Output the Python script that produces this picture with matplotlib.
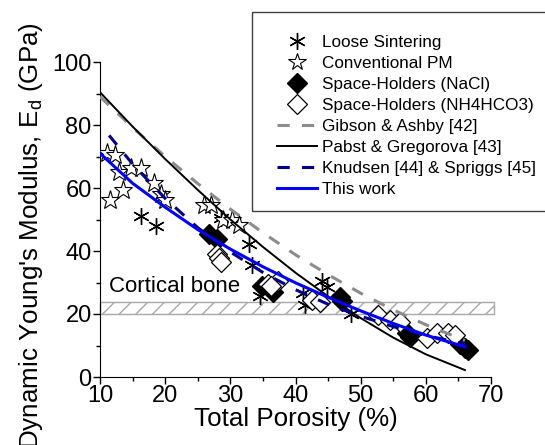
import matplotlib
matplotlib.use("Agg")
import matplotlib.pyplot as plt
from matplotlib.patches import Rectangle
from matplotlib.lines import Line2D

plt.rcParams['font.family'] = ['Liberation Sans', 'DejaVu Sans']
plt.rcParams['hatch.color'] = '#9a9a9a'
plt.rcParams['hatch.linewidth'] = 1.0

# ---------------- data ----------------
loose_p = [16.3, 18.6, 28.6, 32.9, 33.4, 34.5, 41.1, 41.5, 44.1, 44.9, 48.5]
loose_E = [51.1, 48.0, 50.5, 42.3, 35.7, 25.6, 26.6, 23.0, 30.6, 28.6, 20.0]

conv_p = [11.0, 12.3, 11.6, 12.9, 14.7, 16.3, 13.5, 18.3, 19.4, 19.9, 26.0, 27.1, 28.8, 30.2, 31.4]
conv_E = [71.2, 70.4, 56.1, 65.1, 66.5, 66.4, 59.4, 61.5, 58.0, 56.3, 54.6, 54.6, 49.9, 49.9, 48.2]

nacl_p = [26.8, 28.0, 34.8, 36.6, 46.8, 47.2, 57.1, 57.6, 65.2, 66.0, 66.5]
nacl_E = [45.5, 43.8, 28.9, 27.1, 25.3, 24.0, 13.9, 12.7, 10.4, 9.2, 8.5]

nh4_p = [28.0, 28.3, 28.6, 35.8, 37.3, 36.2, 42.6, 43.7, 52.6, 54.5, 56.0, 60.2, 61.7, 63.4, 64.5]
nh4_E = [39.2, 37.8, 36.5, 29.5, 30.6, 28.9, 24.5, 23.9, 19.7, 18.1, 17.5, 12.4, 13.9, 13.9, 13.3]

model_p = [10, 15, 20, 25, 30, 35, 40, 45, 50, 55, 60, 66]
gibson_E = [89.0, 79.2, 70.0, 61.4, 53.3, 45.8, 38.8, 32.5, 26.6, 21.3, 16.6, 11.6]
pabst_E = [90.4, 79.5, 69.2, 59.4, 50.0, 41.3, 33.1, 25.6, 18.7, 12.5, 7.2, 2.2]
knud_p = [11.4, 15, 20, 25, 30, 35, 40, 45, 50, 55, 60, 66]
knud_E = [76.7, 67.6, 56.7, 47.4, 39.7, 33.2, 27.7, 23.1, 19.3, 16.0, 13.2, 10.5]
this_E = [71.0, 61.5, 53.9, 46.8, 40.6, 35.0, 29.9, 25.3, 21.0, 17.0, 13.3, 9.6]

bone_low, bone_high = 20.0, 23.7
bone_p = [10, 70.5]

xticks = [10, 20, 30, 40, 50, 60, 70]
yticks = [0, 20, 40, 60, 80, 100]

# ---------------- figure ----------------
fig = plt.figure(figsize=(5.45, 4.45), dpi=100)
ax = fig.add_axes([100/545, 1-377/445, 391/545, 315/445])

band = Rectangle((bone_p[0], bone_low), bone_p[1]-bone_p[0], bone_high-bone_low,
                 facecolor='white', edgecolor='#a8a8a8', hatch='//', linewidth=1.0,
                 clip_on=False, zorder=1)
ax.add_patch(band)
ax.text(11.4, 27.0, 'Cortical bone', fontsize=16, va='baseline', ha='left', zorder=2)

ast = (6, 2, 0)
ax.plot(loose_p, loose_E, ls='none', marker=ast, ms=12, mec='black', mew=1.0, zorder=3)
ax.plot(conv_p, conv_E, ls='none', marker='*', ms=14, mfc='white', mec='black', mew=0.8, zorder=3)
ax.plot(nacl_p, nacl_E, ls='none', marker='D', ms=10, mfc='black', mec='black', zorder=3)
ax.plot(nh4_p, nh4_E, ls='none', marker='D', ms=10, mfc='white', mec='black', mew=0.9, zorder=3)

ax.plot(model_p, gibson_E, color='#8c8c8c', lw=2.2, ls=(0, (4, 4)), zorder=4)
ax.plot(model_p, pabst_E, color='black', lw=1.4, zorder=4)
ax.plot(knud_p, knud_E, color='#00008b', lw=2.2, ls=(0, (4, 4)), zorder=4)
ax.plot(model_p, this_E, color='#0000ff', lw=2.2, zorder=5)

ax.set_xlim(10, 70)
ax.set_ylim(0, 100)
ax.set_xticks(xticks)
ax.set_yticks(yticks)
ax.set_xticks([15, 25, 35, 45, 55, 65], minor=True)
ax.set_yticks([10, 30, 50, 70, 90], minor=True)
ax.tick_params(which='major', direction='out', length=5, width=1, labelsize=17, pad=1)
ax.tick_params(which='minor', direction='out', length=3, width=1)
for s in ['top', 'right']:
    ax.spines[s].set_visible(False)
ax.set_xlabel('Total Porosity (%)', fontsize=18.7, labelpad=0)
ax.set_ylabel("Dynamic Young's Modulus, E$_\\mathregular{d}$ (GPa)", fontsize=18.7)
ax.yaxis.label.set_va('center')
ax.yaxis.set_label_coords((31-100)/391, (377-236)/315)

# legend
fig.patches.append(Rectangle((252/545, 1-211/445), 300/545, 199/445, transform=fig.transFigure,
                             facecolor='white', edgecolor='#404040', linewidth=1.0, zorder=0))
handles = [
    Line2D([], [], ls='none', marker=ast, ms=12, mec='black', mew=1.0),
    Line2D([], [], ls='none', marker='*', ms=13, mfc='white', mec='black', mew=0.8),
    Line2D([], [], ls='none', marker='D', ms=10, mfc='black', mec='black'),
    Line2D([], [], ls='none', marker='D', ms=10, mfc='white', mec='black', mew=0.9),
    Line2D([], [], color='#8c8c8c', lw=2.2, ls=(0, (4, 4))),
    Line2D([], [], color='black', lw=1.4),
    Line2D([], [], color='#00008b', lw=2.2, ls=(0, (4, 4))),
    Line2D([], [], color='#0000ff', lw=2.2),
]
labels = ['Loose Sintering', 'Conventional PM', 'Space-Holders (NaCl)', 'Space-Holders (NH4HCO3)',
          'Gibson & Ashby [42]', 'Pabst & Gregorova [43]', 'Knudsen [44] & Spriggs [45]', 'This work']
fig.legend(handles, labels, loc='upper left', bbox_to_anchor=(277/545, 1-35/445),
           frameon=False, fontsize=12.3, handlelength=2.35, handletextpad=0.3,
           labelspacing=0.35, borderpad=0, borderaxespad=0)

fig.savefig('out.png', dpi=100)
